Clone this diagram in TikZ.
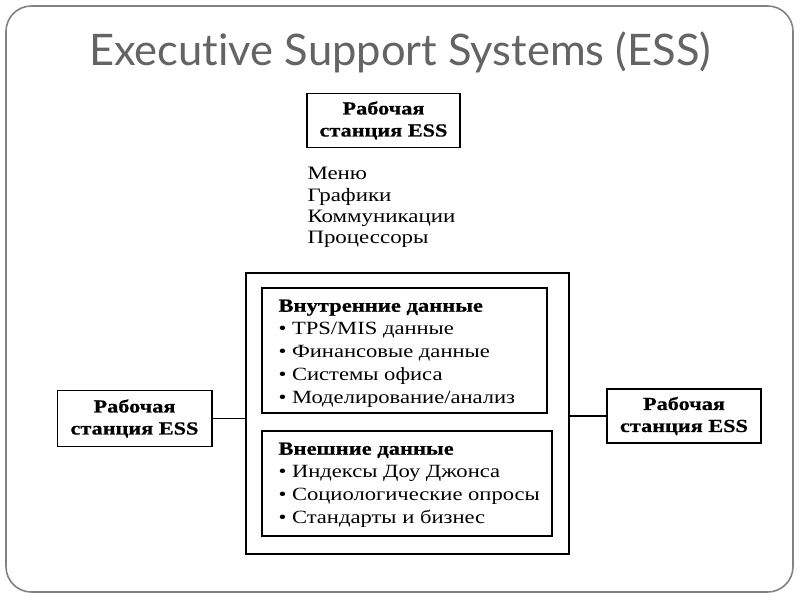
\documentclass[tikz,border=0pt]{standalone}
\usepackage{fontspec}
\setmainfont{Liberation Serif}
\newfontfamily\scanfont[FakeStretch=1.21,BoldFeatures={FakeBold=0.6}]{Liberation Serif}
\newfontfamily\titlefont[Ligatures=NoCommon]{Lato}

\tikzset{every picture/.style={line width=0.75pt}}
\tikzset{
  essbox/.style={draw, line width=1pt, minimum width=115pt, minimum height=41pt, align=center, inner sep=0pt, font=\scanfont\bfseries\fontsize{13.8}{16.5}\selectfont},
  databox/.style={draw, line width=1pt, inner sep=0pt},
  listtext/.style={anchor=north west, inner sep=0pt, align=left, font=\scanfont\fontsize{14}{17.25}\selectfont},
}

\begin{document}
\begin{tikzpicture}[x=0.75pt,y=0.75pt,yscale=-1,xscale=1]
\path[use as bounding box] (0,0) rectangle (800,600);

%Slide frame
\draw [color={rgb, 255:red, 130; green, 130; blue, 130 }, line width=1.2pt, rounded corners=19pt] (6,6) rectangle (793,592);

% Title
\node (title) [anchor=base, inner sep=0pt, font=\titlefont\fontsize{32.6}{40}\selectfont, color={rgb, 255:red, 100; green, 100; blue, 100 }] at (400,65) {Executive Support Systems (ESS)};

%Workstations
\node (topws) [essbox, minimum width=114.75pt, minimum height=40.5pt] at (383.5,120.5) {Рабочая\\станция ESS};
\node (leftws) [essbox, minimum width=116pt, minimum height=42pt] at (134.5,418.5) {Рабочая\\станция ESS};
\node (rightws) [essbox, minimum width=115.5pt, minimum height=40.5pt] at (684,416) {Рабочая\\станция ESS};

% Text Node
\node (tools) [listtext, font=\scanfont\fontsize{14.2}{16}\selectfont] at (307,167) {Меню\\Графики\\Коммуникации\\Процессоры};

%Data boxes
\node (main) [databox, minimum width=242.25pt, minimum height=210.75pt] at (407.5,413.5) {};
\node (inner) [databox, minimum width=213.75pt, minimum height=93.75pt] at (404.5,350.5) {};
\node (outer) [databox, minimum width=217.5pt, minimum height=78.75pt] at (407,483.5) {};

% Text Node
\node (innertext) [listtext] at (278,299) {\textbf{Внутренние данные}\\\textbullet\ TPS/MIS данные\\\textbullet\ Финансовые данные\\\textbullet\ Системы офиса\\\textbullet\ Моделирование/анализ};
% Text Node
\node (outertext) [listtext] at (278,442) {\textbf{Внешние данные}\\\textbullet\ Индексы Доу Джонса\\\textbullet\ Социологические опросы\\\textbullet\ Стандарты и бизнес};

%Connectors
\draw [line width=1pt] (leftws.east) -- (leftws.east -| main.west);
\draw [line width=1pt] (rightws.west) -- (rightws.west -| main.east);

\end{tikzpicture}
\end{document}
